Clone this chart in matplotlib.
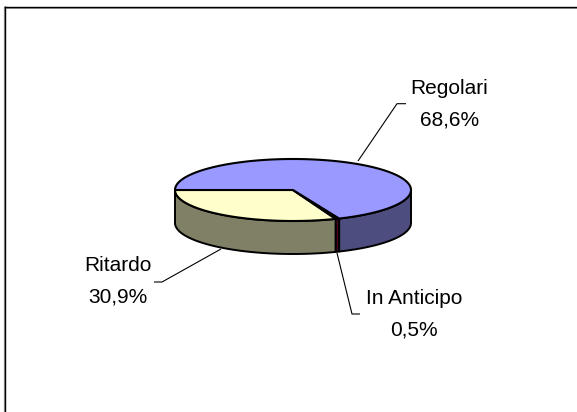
import numpy as np
import matplotlib
matplotlib.use("Agg")
import matplotlib.pyplot as plt
from matplotlib.patches import Polygon

categories = ["Regolari", "In Anticipo", "Ritardo"]
percent_labels = ["68,6%", "0,5%", "30,9%"]
values = [68.6, 0.5, 30.9]
top_colors = ["#9999FF", "#660033", "#FFFFCC"]
side_colors = ["#4D4D80", "#4D0026", "#808066"]

W, H = 577, 412
CX, CY, RX, RY, DEPTH = 293, 190, 118, 31, 33

fig = plt.figure(figsize=(W / 100, H / 100), dpi=100)
ax = fig.add_axes([0, 0, 1, 1])
ax.set_xlim(0, W)
ax.set_ylim(H, 0)
ax.axis("off")
plt.rcParams["font.family"] = "Liberation Sans"

# frame: only the top and left edges are visible, each with a grey companion line
line_ends = dict(solid_capstyle="butt")
ax.plot([4, W], [7.5, 7.5], color="#999999", lw=0.7, zorder=0, **line_ends)
ax.plot([3.6, 3.6], [7, H], color="#999999", lw=0.9, zorder=0, **line_ends)
ax.plot([4, W], [6.5, 6.5], color="black", lw=1.0, zorder=0, **line_ends)
ax.plot([4.8, 4.8], [6, H], color="black", lw=1.0, zorder=0, **line_ends)


def rim(a0, a1, n=120):
    t = np.radians(np.linspace(a0, a1, n))
    return CX + RX * np.cos(t), CY - RY * np.sin(t)


# slices run counter-clockwise (on screen) from the left-hand point
order = [2, 1, 0]
angle = 180.0
spans = {}
for i in order:
    sweep = values[i] * 3.6
    spans[i] = (angle, angle + sweep)
    angle += sweep

# side walls: only the front half of the rim
for i in order:
    a0, a1 = spans[i]
    lo, hi = max(a0, 180), min(a1, 360)
    if hi > lo:
        x, y = rim(lo, hi)
        pts = np.r_[np.c_[x, y], np.c_[x[::-1], y[::-1] + DEPTH]]
        ax.add_patch(Polygon(pts, closed=True, fc=side_colors[i], ec="black",
                             lw=1.4, joinstyle="round", zorder=2))

# top faces
for i in order:
    a0, a1 = spans[i]
    x, y = rim(a0, a1, 240)
    pts = np.r_[[[CX, CY]], np.c_[x, y]]
    ax.add_patch(Polygon(pts, closed=True, fc=top_colors[i], ec="black",
                         lw=1.5, joinstyle="round", zorder=3))

# leader lines and labels
line_kw = dict(color="black", lw=0.8, zorder=1, solid_capstyle="butt")
ax.plot([358, 397, 406], [161, 103.7, 103.7], **line_kw)
ax.plot([221, 162, 154], [249, 282, 282], **line_kw)
ax.plot([337, 352, 360], [253, 314, 314], **line_kw)

text_kw = dict(ha="center", va="center", fontsize=15, color="black", linespacing=1.85)
ax.text(449.5, 104, categories[0] + "\n" + percent_labels[0], **text_kw)
ax.text(414, 314, categories[1] + "\n" + percent_labels[1], **text_kw)
ax.text(118, 281, categories[2] + "\n" + percent_labels[2], **text_kw)

fig.savefig("out.png", dpi=100)
